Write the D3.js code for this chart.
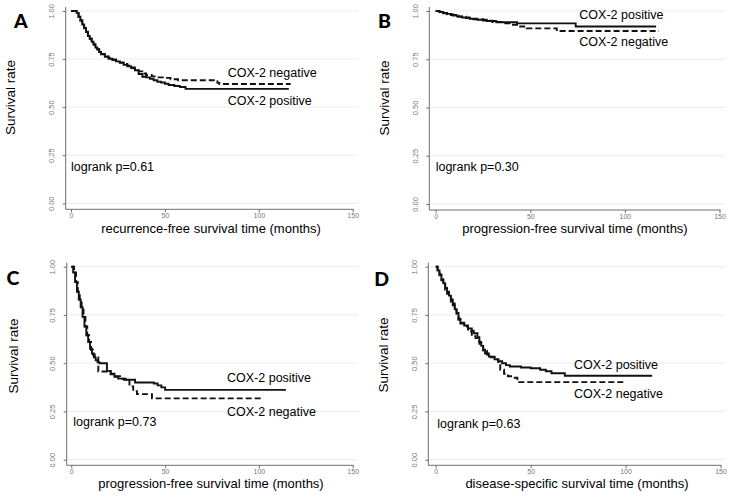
<!DOCTYPE html>
<html><head><meta charset="utf-8">
<script src="https://cdn.jsdelivr.net/npm/d3@7"></script>
<style>
html,body{margin:0;padding:0;background:#fff;}
svg text{font-family:"Liberation Sans",Arial,sans-serif;}
</style></head>
<body>
<svg id="chart" width="729" height="498"></svg>
<script>
// ---------- data ----------
const xTicks = [0, 50, 100, 150];
const yTicks = [0, 0.25, 0.5, 0.75, 1];
const panelLetters = ["A", "B", "C", "D"];
const xTitles = ["recurrence-free survival time (months)", "progression-free survival time (months)",
                 "progression-free survival time (months)", "disease-specific survival time (months)"];
const pValues = ["logrank p=0.61", "logrank p=0.30", "logrank p=0.73", "logrank p=0.63"];
const seriesNames = ["COX-2 positive", "COX-2 negative"];

// [time (months), survival]
const rfsPositive = [[0,1],[3,0.99],[4,0.97],[5,0.95],[6,0.93],[7,0.91],[8,0.89],[9,0.87],[10,0.855],[11,0.84],[12,0.825],[13,0.81],[14,0.8],[15,0.787],[16,0.775],[18,0.762],[20,0.752],[22,0.745],[24,0.738],[26,0.73],[28,0.72],[30,0.712],[32,0.703],[34,0.692],[36,0.672],[38,0.658],[40,0.655],[42,0.648],[44,0.64],[46,0.632],[48,0.628],[50,0.622],[52,0.615],[55,0.61],[58,0.605],[61,0.595],[116,0.595]];
const rfsNegative = [[0,1],[3,0.99],[4,0.97],[5,0.952],[6,0.932],[7,0.912],[8,0.892],[9,0.872],[10,0.857],[11,0.842],[12,0.827],[13,0.812],[14,0.802],[15,0.789],[16,0.777],[18,0.764],[20,0.755],[22,0.748],[24,0.741],[26,0.733],[28,0.724],[30,0.716],[32,0.707],[34,0.697],[36,0.686],[38,0.675],[40,0.667],[43,0.66],[46,0.655],[50,0.652],[53,0.645],[57,0.64],[76,0.633],[78,0.626],[79,0.62],[117,0.62]];

const pfsBPositive = [[0,1],[2,0.995],[4,0.99],[6,0.985],[8,0.979],[11,0.972],[14,0.966],[18,0.96],[22,0.955],[27,0.948],[32,0.942],[43,0.936],[74,0.92],[116.5,0.92]];
const pfsBNegative = [[0,1],[2,0.994],[4,0.988],[6,0.983],[9,0.976],[12,0.97],[16,0.963],[20,0.957],[25,0.95],[30,0.943],[35,0.936],[40,0.929],[44,0.92],[48,0.91],[64,0.896],[118,0.896]];

const pfsCPositive = [[0,1],[1,0.97],[2,0.92],[3,0.87],[4,0.83],[5,0.79],[6,0.74],[7,0.69],[8,0.645],[9,0.61],[10,0.575],[11,0.55],[12,0.53],[13,0.515],[14,0.505],[15,0.5],[18.5,0.5],[19,0.46],[21,0.445],[23,0.43],[25,0.42],[28,0.414],[34,0.4],[44,0.395],[46,0.385],[48,0.375],[50,0.362],[114.4,0.362]];
const pfsCNegative = [[0,1],[1.5,0.97],[2.5,0.92],[3.5,0.87],[4.5,0.83],[5.5,0.79],[6.5,0.74],[7.5,0.69],[8.5,0.645],[9.5,0.61],[10.5,0.57],[11.5,0.545],[12.5,0.53],[14.4,0.457],[19.5,0.457],[21,0.442],[23,0.432],[26,0.42],[29,0.41],[31,0.38],[33,0.355],[35,0.34],[42.8,0.34],[43,0.318],[101.5,0.318]];

const dssPositive = [[0,1],[1,0.98],[2,0.96],[3,0.935],[4,0.914],[5,0.89],[6,0.87],[7,0.85],[8,0.83],[9,0.81],[10,0.78],[11,0.76],[12,0.73],[13,0.71],[15,0.695],[17,0.68],[19,0.668],[20,0.655],[22,0.635],[23,0.61],[24,0.59],[25,0.57],[26,0.55],[28,0.534],[31,0.52],[33,0.51],[35,0.5],[37,0.49],[39,0.483],[45,0.478],[50,0.474],[55,0.466],[58,0.458],[61,0.448],[68,0.435],[114,0.435]];
const dssNegative = [[0,1],[1,0.975],[2,0.955],[3,0.93],[4,0.905],[5,0.88],[6,0.86],[7,0.84],[8,0.82],[9,0.8],[10,0.775],[11,0.75],[12,0.725],[13,0.705],[15,0.69],[17,0.665],[19,0.64],[21,0.63],[23,0.6],[25,0.565],[27,0.545],[29,0.53],[31,0.52],[33,0.49],[34,0.466],[36,0.445],[38,0.432],[41,0.425],[43,0.41],[44,0.402],[100,0.402]];

// ---------- layout ----------
const panels = [
  {pos: rfsPositive, neg: rfsNegative, yAx: 65.7, x0: 71, x1: 352.7, y1: 11, y0: 203.3, xAxY: 209.3, gridEnd: 358,
   letter: [14, 27.5], yTitle: [15, 97.5], xTitle: [211, 232.5], pText: [71, 170.5],
   posLab: [227.7, 105], negLab: [227.7, 76.5]},
  {pos: pfsBPositive, neg: pfsBNegative, yAx: 429.3, x0: 435.7, x1: 719.5, y1: 11, y0: 204, xAxY: 210, gridEnd: 725,
   letter: [378, 27.5], yTitle: [388.5, 98], xTitle: [575, 232.5], pText: [435.7, 170.5],
   posLab: [579.3, 18.5], negLab: [579.3, 46]},
  {pos: pfsCPositive, neg: pfsCNegative, yAx: 66.7, x0: 71.3, x1: 352.7, y1: 266.7, y0: 459.7, xAxY: 465.3, gridEnd: 358,
   letter: [6.5, 285.2], yTitle: [18, 356], xTitle: [211, 488], pText: [73.3, 426],
   posLab: [227, 381.7], negLab: [227, 415.7]},
  {pos: dssPositive, neg: dssNegative, yAx: 428.3, x0: 435.7, x1: 720.5, y1: 266.7, y0: 459.7, xAxY: 465.3, gridEnd: 725,
   letter: [374.3, 286], yTitle: [388.3, 355], xTitle: [577, 488], pText: [437.3, 428.3],
   posLab: [574, 369], negLab: [574, 397.7]}
];

const svg = d3.select("#chart");
const axisColor = "#6e6e6e";

panels.forEach((p, i) => {
  const x = d3.scaleLinear().domain([0, 150]).range([p.x0, p.x1]);
  const y = d3.scaleLinear().domain([0, 1]).range([p.y0, p.y1]);
  const g = svg.append("g");

  // gridlines
  g.selectAll("line.grid").data(yTicks).join("line")
    .attr("x1", p.yAx).attr("x2", p.gridEnd)
    .attr("y1", d => y(d)).attr("y2", d => y(d))
    .attr("stroke", "#ececec").attr("stroke-width", 1);

  // y axis
  const ya = g.append("g").attr("transform", `translate(${p.yAx},0)`)
    .call(d3.axisLeft(y).tickValues(yTicks).tickFormat(d3.format(".2f")).tickSize(3).tickSizeOuter(0));
  ya.select(".domain").remove();
  ya.selectAll(".tick line").attr("stroke", axisColor);
  ya.selectAll(".tick text")
    .attr("fill", "#777").style("font-size", "7.5px")
    .attr("transform", "rotate(-90)")
    .attr("x", 0).attr("y", -17).attr("dy", "0.7em")
    .attr("text-anchor", "middle");
  g.append("line").attr("x1", p.yAx).attr("x2", p.yAx)
    .attr("y1", p.y1 - 4).attr("y2", p.xAxY).attr("stroke", axisColor).attr("stroke-width", 1);

  // x axis
  const xa = g.append("g").attr("transform", `translate(0,${p.xAxY})`)
    .call(d3.axisBottom(x).tickValues(xTicks).tickSize(3).tickSizeOuter(0));
  xa.select(".domain").remove();
  xa.selectAll(".tick line").attr("stroke", axisColor);
  xa.selectAll(".tick text").attr("fill", "#777").style("font-size", "7px").attr("y", 4);
  g.append("line").attr("x1", p.yAx).attr("x2", p.x1 + 1)
    .attr("y1", p.xAxY).attr("y2", p.xAxY).attr("stroke", axisColor).attr("stroke-width", 1);

  // curves
  const line = d3.line().x(d => x(d[0])).y(d => y(d[1])).curve(d3.curveStepAfter);
  g.append("path").datum(p.neg).attr("d", line)
    .attr("fill", "none").attr("stroke", "#111").attr("stroke-width", 1.9)
    .attr("stroke-dasharray", "6,3");
  g.append("path").datum(p.pos).attr("d", line)
    .attr("fill", "none").attr("stroke", "#111").attr("stroke-width", 1.9);

  // texts
  g.append("text").attr("x", p.letter[0]).attr("y", p.letter[1]).text(panelLetters[i])
    .style("font-family", "Lato, 'Open Sans', sans-serif").style("font-weight", "900").style("font-size", "19.5px").attr("fill", "#000");
  g.append("text").attr("transform", `translate(${p.yTitle[0]},${p.yTitle[1]}) rotate(-90)`)
    .attr("text-anchor", "middle").style("font-size", "13.5px").attr("fill", "#000").text("Survival rate");
  g.append("text").attr("x", p.xTitle[0]).attr("y", p.xTitle[1]).attr("text-anchor", "middle")
    .style("font-size", "13px").attr("fill", "#000").text(xTitles[i]);
  g.append("text").attr("x", p.pText[0]).attr("y", p.pText[1])
    .style("font-size", "12.5px").attr("fill", "#000").text(pValues[i]);
  g.append("text").attr("x", p.posLab[0]).attr("y", p.posLab[1])
    .style("font-size", "12.5px").attr("fill", "#000").text(seriesNames[0]);
  g.append("text").attr("x", p.negLab[0]).attr("y", p.negLab[1])
    .style("font-size", "12.5px").attr("fill", "#000").text(seriesNames[1]);
});
</script>
</body></html>
